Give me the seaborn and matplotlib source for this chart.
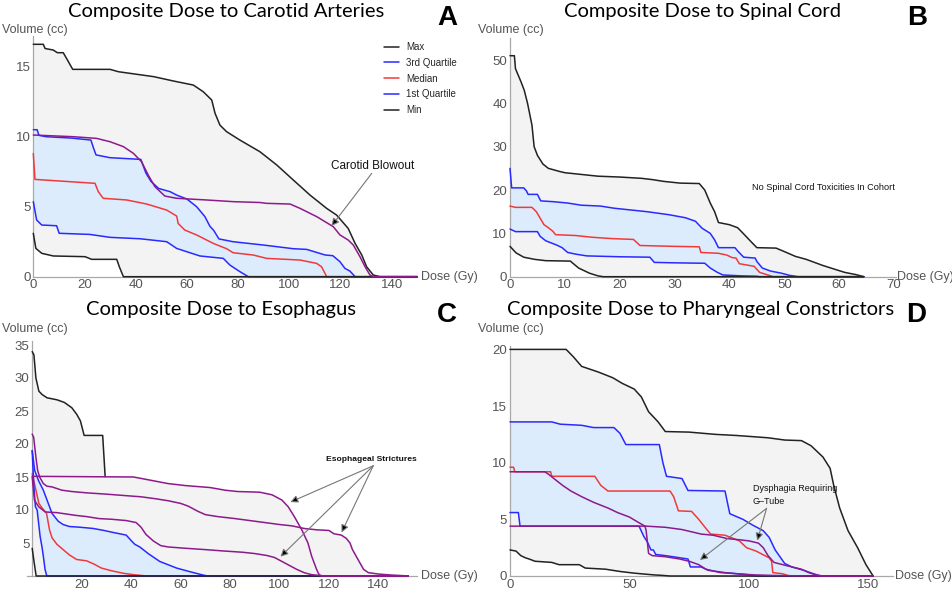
import numpy as np
import seaborn as sns
import matplotlib
matplotlib.use("Agg")
import matplotlib.pyplot as plt
from matplotlib.ticker import MultipleLocator

# ---------------- Panel A: carotid arteries ----------------
a_max_dose = [0, 3.9, 4.6, 7.8, 9.4, 11.7, 13.7, 15.4, 30.0, 33.3, 47.0, 54.7, 62.5, 66.4, 69.7, 71.0, 72.9, 75.5, 80.7, 88.5, 95.1, 101.6, 108.1, 114.6, 118.5, 123.0, 125.7, 128.3, 130.2, 132.8, 135.4, 150]
a_max_vol = [16.6, 16.6, 16.3, 16.19, 16.0, 16.0, 15.36, 14.81, 14.81, 14.64, 14.29, 13.98, 13.69, 13.21, 12.62, 11.67, 10.83, 10.36, 9.76, 8.93, 7.98, 6.9, 5.83, 4.88, 4.4, 3.45, 2.38, 1.55, 0.71, 0.12, 0, 0]
a_q3_dose = [0, 1.5, 2.2, 5, 15, 22.5, 23.5, 24.5, 30, 42, 44, 46, 49, 53.5, 56, 60, 63.8, 67, 69, 70.5, 72.5, 78, 90, 101.5, 106.8, 114, 117, 119.8, 121.7, 123.7, 125.7, 150]
a_q3_vol = [10.5, 10.5, 10.1, 10.0, 9.9, 9.76, 9.2, 8.7, 8.5, 8.38, 7.4, 6.8, 6.3, 6.07, 5.83, 5.55, 5.0, 4.3, 3.6, 3.3, 2.7, 2.5, 2.26, 2.0, 1.95, 1.55, 1.5, 1.07, 0.6, 0.4, 0, 0]
a_med_dose = [0, 0.65, 24.1, 25.4, 27.3, 36.5, 44.3, 52.1, 56.0, 56.6, 59.2, 63.8, 66.4, 70.3, 75.5, 78.1, 85.9, 91.1, 104.2, 110.7, 112.6, 114.6, 150]
a_med_vol = [8.8, 6.95, 6.67, 6.07, 5.6, 5.48, 5.19, 4.76, 4.33, 3.8, 3.33, 2.98, 2.74, 2.38, 2.0, 1.71, 1.55, 1.31, 1.19, 0.95, 0.71, 0, 0]
a_q1_dose = [0, 1.3, 3.3, 9.1, 10.1, 22.1, 30.0, 41.7, 52.1, 56.0, 61.2, 65.1, 74.2, 76.8, 80.7, 84.0, 150]
a_q1_vol = [5.36, 4.05, 3.69, 3.64, 3.1, 3.02, 2.81, 2.71, 2.5, 2.02, 1.71, 1.48, 1.31, 0.83, 0.36, 0, 0]
a_min_dose = [0, 1.0, 3.3, 7.8, 20.2, 22.8, 32.6, 33.6, 35.2, 150]
a_min_vol = [3.1, 2.02, 1.67, 1.48, 1.43, 1.24, 1.24, 0.71, 0, 0]
a_pt_dose = [0, 15.6, 24.7, 30.0, 35.2, 39.1, 42.3, 44.9, 47.5, 51.4, 56.0, 67.7, 78.1, 88.5, 91.1, 100.3, 104.2, 110.7, 117.2, 119.8, 123.0, 125.0, 127.6, 129.6, 131.5, 132.8, 150]
a_pt_vol = [10.12, 10.0, 9.88, 9.64, 9.29, 8.81, 8.21, 7.26, 6.43, 5.76, 5.6, 5.48, 5.36, 5.3, 5.24, 5.19, 4.88, 4.29, 3.57, 2.98, 2.62, 2.26, 1.43, 0.71, 0.12, 0, 0]

# ---------------- Panel B: spinal cord ----------------
b_max_dose = [0, 0.8, 1.0, 2.0, 2.6, 3.2, 4.0, 4.4, 5.0, 6.0, 7.0, 9.0, 10, 13, 16, 20, 24, 26, 28, 31, 34.5, 35.5, 36.5, 37.3, 38, 40, 41.5, 42.5, 44, 45, 48.5, 50, 52, 54, 57, 59.5, 61, 63, 64.5]
b_max_vol = [51, 51, 48, 45, 43, 40, 35, 30, 28, 26, 25, 24.3, 24, 23.6, 23.2, 23, 22.7, 22.4, 22, 21.6, 21.5, 20, 17, 15, 12.5, 12, 11.3, 10, 8, 6.7, 6.6, 5.8, 4.7, 4.0, 2.6, 1.6, 1.0, 0.5, 0]
b_q3_dose = [0, 0.3, 2.5, 3.0, 3.3, 5.0, 5.6, 8, 10.5, 13, 16.5, 19, 22, 25, 29, 32, 33.8, 35, 36.5, 37.3, 38, 41, 41.6, 42.6, 44.7, 45, 46, 47.5, 49.5, 51, 52.5, 64.5]
b_q3_vol = [25, 20.5, 20.5, 19.8, 19, 19, 17.5, 17.3, 17, 16.5, 16.3, 15.8, 15.4, 15.0, 14.3, 13.6, 12.8, 11.2, 10, 8.5, 6.7, 6.7, 5.8, 4.5, 4.3, 3.5, 2.0, 1.3, 0.8, 0.3, 0, 0]
b_med_dose = [0, 1, 4, 4.8, 5.5, 6.2, 7, 7.8, 8.3, 12, 15, 18.5, 22.5, 23.7, 30, 34.5, 34.8, 38, 39.5, 40.5, 41.2, 41.8, 44.5, 45.5, 47, 48, 64.5]
b_med_vol = [16.3, 16.0, 16.0, 15.0, 13.5, 12, 11.3, 10.5, 9.7, 9.5, 9.1, 8.8, 8.6, 7.2, 7.0, 6.9, 5.6, 5.4, 5.0, 4.4, 4.3, 3.0, 2.4, 1.0, 0.4, 0, 0]
b_q1_dose = [0, 1, 5, 5.5, 6.5, 8.5, 9.5, 10.5, 12, 14, 20, 25.5, 26.3, 30, 35.5, 36.5, 37.8, 38.8, 42, 45, 45.5, 64.5]
b_q1_vol = [11, 10.4, 10.4, 9.3, 8.3, 7.3, 6.7, 5.6, 5.2, 4.8, 4.6, 4.5, 3.3, 3.2, 3.1, 2.0, 1.0, 0.4, 0.2, 0.1, 0, 0]
b_min_dose = [0, 1.1, 2.5, 4.5, 6.5, 11, 12.5, 14.5, 16, 17, 64.5]
b_min_vol = [7, 5.5, 4.5, 4.0, 3.7, 3.6, 2.0, 0.8, 0.2, 0, 0]

# ---------------- Panel C: esophagus ----------------
c_max_dose = [0, 0.7, 1.5, 2.7, 4, 6, 10, 13, 16, 18, 19.5, 21, 28.5, 29.5]
c_max_vol = [34, 33.5, 30, 28, 27.5, 27, 26.7, 26.3, 25.5, 24.5, 23.5, 21.3, 21.3, 15.05]
c_q3_dose = [0, 1, 2.5, 4.5, 5.5, 7, 8, 10.5, 12.5, 15, 19, 24.7, 29, 32.7, 38, 40.2, 41.5, 43.5, 46.9, 51.6, 58.4, 63.7, 69, 71, 152]
c_q3_vol = [19, 16, 14.5, 13, 12, 10.5, 9.5, 8.3, 7.8, 7.5, 7.4, 7.2, 6.9, 6.6, 6.2, 5.3, 4.8, 4.4, 3.4, 2.2, 1.2, 0.66, 0.15, 0, 0]
c_med_dose = [0, 1.5, 2.7, 4, 5.8, 7, 8, 10, 12.5, 15, 18, 22, 25, 28, 32, 37, 41, 45, 47, 152]
c_med_vol = [15.5, 13, 11, 10.3, 9.5, 7.0, 5.8, 4.8, 4.0, 3.2, 2.5, 2.3, 1.8, 1.2, 0.8, 0.4, 0.2, 0.05, 0, 0]
c_q1_dose = [0, 0.6, 1.3, 2, 3.2, 4, 4.5, 5.2, 5.9, 152]
c_q1_vol = [19, 14, 10.5, 10, 6, 4.3, 3, 1, 0, 0]
c_min_dose = [0, 0.8, 1.6, 152]
c_min_vol = [4.2, 2, 0, 0]
c_pt1_dose = [0, 41, 48, 55, 62, 72, 78, 83, 92, 97, 101, 103.5, 106, 109, 111.5, 113, 115, 116, 117, 152]
c_pt1_vol = [15.1, 15.0, 14.5, 14.0, 13.7, 13.4, 13.0, 12.8, 12.7, 12.3, 11.5, 10.5, 9, 7, 5, 3, 1, 0.2, 0, 0]
c_pt2_dose = [0, 0.6, 1.5, 2.2, 3, 4.5, 6, 8, 12, 16, 22, 30, 37, 44, 50, 55, 60, 63, 67, 70, 75, 82, 88, 94, 100, 105, 110, 115, 120, 122, 125, 127, 128.5, 129.5, 131, 132.5, 134, 136, 140, 145, 150, 152]
c_pt2_vol = [21.5, 21, 18, 16, 15, 14, 13.6, 13.5, 13.0, 12.8, 12.6, 12.4, 12.2, 12.0, 11.7, 11.4, 11.0, 10.6, 9.8, 9.3, 9.0, 8.7, 8.4, 8.1, 7.8, 7.6, 7.2, 7.0, 6.9, 6.4, 6.2, 5.7, 5.0, 4.0, 3.0, 2.0, 1.0, 0.5, 0.3, 0.15, 0.05, 0]
c_pt3_dose = [0, 0.9, 2.6, 5.3, 10, 17.3, 22, 27, 32, 38, 42, 44, 46, 49, 52, 55, 62, 70, 77, 85, 90, 95, 98, 101, 104, 107, 110, 113, 117, 120, 152]
c_pt3_vol = [15, 11.5, 10.5, 9.7, 9.6, 9.2, 9.0, 8.7, 8.6, 8.4, 8.1, 7.4, 6.3, 5.3, 4.6, 4.4, 4.2, 4.0, 3.8, 3.6, 3.4, 3.1, 2.8, 2.2, 1.6, 1.0, 0.5, 0.2, 0.05, 0, 0]

# ---------------- Panel D: pharyngeal constrictors ----------------
d_max_dose = [0, 23.5, 26.5, 30, 37, 43, 47, 52, 55, 58, 62, 65, 75, 86, 95, 108, 115, 122, 126, 131, 134, 135.5, 138, 141.5, 145.5, 149, 152]
d_max_vol = [20, 20, 19.35, 18.5, 18.0, 17.5, 17.0, 16.5, 15.8, 14.5, 13.6, 12.75, 12.7, 12.5, 12.4, 12.2, 12.0, 11.95, 11.5, 10.5, 9.5, 8, 6, 4, 2.5, 1.0, 0]
d_q3_dose = [0, 17.5, 21, 30, 35, 43.5, 46, 48.5, 62.5, 64, 65.5, 72, 74.5, 90, 92, 97.5, 101.5, 106, 108.5, 111, 115, 118, 123, 127, 130, 152]
d_q3_vol = [13.6, 13.6, 13.4, 13.3, 13.1, 13.1, 12.6, 11.6, 11.6, 10, 8.8, 8.6, 7.55, 7.5, 5.5, 5.0, 4.5, 4.0, 3.4, 2.3, 1.1, 0.8, 0.5, 0.2, 0, 0]
d_med_dose = [0, 1.5, 2, 17, 17.5, 35.5, 38, 41, 67, 68.5, 70.5, 76, 79, 82, 84, 90, 96, 99, 103, 108.5, 109.5, 110, 114, 117, 152]
d_med_vol = [9.6, 9.6, 9.2, 9.2, 8.8, 8.8, 8.0, 7.5, 7.5, 7.0, 5.75, 5.7, 5.0, 4.2, 3.7, 3.6, 3.1, 2.5, 2.2, 1.6, 1.3, 0.3, 0.2, 0, 0]
d_q1_dose = [0, 3.5, 4.2, 54, 56, 57.5, 59, 60, 61, 65, 74.5, 75.5, 80, 83, 90, 95, 100, 103, 152]
d_q1_vol = [5.6, 5.6, 4.4, 4.4, 3.5, 3.0, 2.3, 2.3, 1.9, 1.8, 1.5, 0.8, 0.8, 0.5, 0.3, 0.2, 0.1, 0, 0]
d_min_dose = [0, 2.5, 4.5, 6.5, 8, 10.5, 17.5, 20.5, 29, 31.5, 40, 46, 52, 60, 64, 67, 152]
d_min_vol = [2.3, 2.2, 1.8, 1.6, 1.5, 1.3, 1.2, 1.0, 1.0, 0.7, 0.6, 0.4, 0.25, 0.1, 0.05, 0, 0]
d_pt1_dose = [0, 14.5, 16, 19, 22, 25.5, 30, 35, 41, 45, 50, 54, 56.5, 57, 58, 59.5, 65, 71, 75, 79, 82, 88, 95, 102, 110, 125, 152]
d_pt1_vol = [9.2, 9.2, 9.0, 8.5, 8.0, 7.5, 7.0, 6.5, 6.0, 5.6, 5.2, 4.7, 4.4, 4.0, 2.0, 1.8, 1.7, 1.5, 1.3, 1.0, 0.6, 0.3, 0.2, 0.1, 0.05, 0, 0]
d_pt2_dose = [0, 57, 65, 72, 76, 80, 85, 91, 96, 100, 104, 106, 108, 110.5, 116, 122, 125, 128, 131, 152]
d_pt2_vol = [4.4, 4.4, 4.3, 4.1, 3.9, 3.7, 3.6, 3.3, 3.2, 3.1, 2.9, 2.5, 1.8, 1.2, 0.9, 0.6, 0.3, 0.1, 0, 0]

titles = ["Composite Dose to Carotid Arteries", "Composite Dose to Spinal Cord",
          "Composite Dose to Esophagus", "Composite Dose to Pharyngeal Constrictors"]
letters = ["A", "B", "C", "D"]

BLACK = "#222222"
BLUE = "#2a2aff"
RED = "#f03a3a"
PURPLE = "#8c1a8c"
GREY_FILL = "#f3f3f3"
BLUE_FILL = "#dcecfc"
AXIS = "#a8a8a8"
TICKTXT = "#555555"

sns.set_style("white")
plt.rcParams["font.family"] = ["Liberation Sans", "DejaVu Sans"]

W, H = 952, 590
fig = plt.figure(figsize=(W / 100, H / 100), dpi=100)


def place(x0, sx, xlim, y0, sy, ylim):
    # axes box from pixel position of data origin and pixel scale
    left = x0 + xlim[0] * sx
    width = (xlim[1] - xlim[0]) * sx
    bot = y0 - ylim[0] * sy
    top = y0 - ylim[1] * sy
    ax = fig.add_axes([left / W, 1 - bot / H, width / W, (bot - top) / H])
    ax.set_xlim(*xlim)
    ax.set_ylim(*ylim)
    return ax


def style(ax, xmaj, xmin, ymaj, ymin, xticks=None, yticks=None):
    for s in ["top", "right"]:
        ax.spines[s].set_visible(False)
    for s in ["left", "bottom"]:
        ax.spines[s].set_color(AXIS)
        ax.spines[s].set_linewidth(0.9)
        ax.spines[s].set_position(("data", 0))
    ax.xaxis.set_major_locator(MultipleLocator(xmaj))
    ax.xaxis.set_minor_locator(MultipleLocator(xmin))
    ax.yaxis.set_major_locator(MultipleLocator(ymaj))
    ax.yaxis.set_minor_locator(MultipleLocator(ymin))
    if xticks is not None:
        ax.set_xticks(xticks)
    if yticks is not None:
        ax.set_yticks(yticks)
    ax.tick_params(which="both", direction="in", color=AXIS, labelcolor=TICKTXT,
                   labelsize=9.5, pad=2)
    ax.tick_params(which="major", length=4, width=0.8)
    ax.tick_params(which="minor", length=2, width=0.6)
    ax.set_xlabel("")
    ax.set_ylabel("")
    ax.set_facecolor("none")


def curve(ax, d, v, color, label=None, lw=1.1):
    sns.lineplot(x=np.array(d, float), y=np.array(v, float), ax=ax, color=color,
                 linewidth=lw, sort=False, estimator=None, label=label,
                 clip_on=False, zorder=3)


def panel(ax, mx, q3, med, q1, mn, patients, end, legend=False):
    grid = np.linspace(0, end, 3000)
    f = lambda c: np.interp(grid, c[0], c[1], right=0)
    upper = f(mx)
    for p in patients:
        upper = np.maximum(upper, f(p))
    ax.fill_between(grid, f(mn), upper, color=GREY_FILL, lw=0, zorder=1)
    ax.fill_between(grid, f(q1), f(q3), color=BLUE_FILL, lw=0, zorder=2)
    curve(ax, *mx, BLACK, "Max" if legend else None)
    curve(ax, *q3, BLUE, "3rd Quartile" if legend else None)
    curve(ax, *med, RED, "Median" if legend else None)
    curve(ax, *q1, BLUE, "1st Quartile" if legend else None)
    curve(ax, *mn, BLACK, "Min" if legend else None)
    for p in patients:
        curve(ax, *p, PURPLE)
    lg = ax.get_legend()
    if lg is not None:
        lg.remove()


def arrow(ax, start, tip):
    ax.annotate("", xy=tip, xytext=start,
                arrowprops=dict(arrowstyle="-|>", ec="#777777", fc="black", lw=0.8,
                                mutation_scale=11, shrinkA=0, shrinkB=0), zorder=5)


# --- A
axA = place(33.3, 2.56, (0, 150), 276.7, 14.0, (0, 17.2))
panel(axA, (a_max_dose, a_max_vol), (a_q3_dose, a_q3_vol), (a_med_dose, a_med_vol),
      (a_q1_dose, a_q1_vol), (a_min_dose, a_min_vol), [(a_pt_dose, a_pt_vol)], 150, legend=True)
style(axA, 20, 5, 5, 1)
axA.legend(loc="upper left", bbox_to_anchor=(0.9, 0.995), frameon=False, fontsize=7,
           handlelength=1.6, handletextpad=0.7, labelspacing=0.6, borderpad=0)
axA.text(132.5, 7.9, "Carotid Blowout", fontsize=8.5, ha="center", va="center", color="#111111")
arrow(axA, (132.2, 7.38), (116.5, 3.62))

# --- B
axB = place(510, 5.486, (0, 70.4), 276.7, 4.333, (0, 55))
panel(axB, (b_max_dose, b_max_vol), (b_q3_dose, b_q3_vol), (b_med_dose, b_med_vol),
      (b_q1_dose, b_q1_vol), (b_min_dose, b_min_vol), [], 64.5)
style(axB, 10, 2, 10, 2)
axB.text(57.1, 20.6, "No Spinal Cord Toxicities In Cohort", fontsize=6.6, ha="center",
         va="center", color="#111111")

# --- C
axC = place(32.2, 2.473, (-2.3, 155.5), 576, 6.6, (0, 35.6))
panel(axC, (c_max_dose, c_max_vol), (c_q3_dose, c_q3_vol), (c_med_dose, c_med_vol),
      (c_q1_dose, c_q1_vol), (c_min_dose, c_min_vol),
      [(c_pt1_dose, c_pt1_vol), (c_pt2_dose, c_pt2_vol), (c_pt3_dose, c_pt3_vol)], 152)
style(axC, 20, 5, 5, 1, xticks=[20, 40, 60, 80, 100, 120, 140], yticks=[5, 10, 15, 20, 25, 30, 35])
axC.set_xlim(-2.3, 155.5)
axC.set_ylim(0, 35.6)
axC.text(137.2, 17.6, "Esophageal Strictures", fontsize=6.1, ha="center", va="center",
         color="#111111", fontweight="bold")
for tip in [(104.4, 11.2), (100.4, 2.93), (125.1, 6.6)]:
    arrow(axC, (137.9, 16.7), tip)

# --- D
axD = place(510, 2.389, (0, 160.5), 576, 11.33, (0, 20.3))
panel(axD, (d_max_dose, d_max_vol), (d_q3_dose, d_q3_vol), (d_med_dose, d_med_vol),
      (d_q1_dose, d_q1_vol), (d_min_dose, d_min_vol),
      [(d_pt1_dose, d_pt1_vol), (d_pt2_dose, d_pt2_vol)], 152)
style(axD, 50, 10, 5, 1)
axD.text(101.6, 7.15, "Dysphagia Requiring\nG\u2013Tube", fontsize=6.5, ha="left", va="center",
         color="#111111", linespacing=1.7)
for tip in [(79.5, 1.41), (103.5, 3.12)]:
    arrow(axD, (107.4, 5.97), tip)

# titles, letters and axis captions placed in figure pixels
title_pos = [(226, 11), (702, 11), (221, 310), (701, 309)]
letter_pos = [(447, 18), (917, 18), (447, 315), (916, 315)]
vol_pos = [(2, 30), (478, 30), (2, 329), (478, 329)]
dose_pos = [(421, 277), (897, 277), (421, 576), (895, 576)]
for i in range(4):
    fig.text(title_pos[i][0] / W, 1 - title_pos[i][1] / H, titles[i], ha="center", va="center",
             fontsize=14.5, family=["Lato", "DejaVu Sans"], color="black")
    fig.text(letter_pos[i][0] / W, 1 - letter_pos[i][1] / H, letters[i], ha="center", va="center",
             fontsize=20, fontweight="bold", color="black")
    fig.text(vol_pos[i][0] / W, 1 - vol_pos[i][1] / H, "Volume (cc)", ha="left", va="center",
             fontsize=9, color=TICKTXT)
    fig.text(dose_pos[i][0] / W, 1 - dose_pos[i][1] / H, "Dose (Gy)", ha="left", va="center",
             fontsize=9, color=TICKTXT)

fig.savefig("out.png", dpi=100)
